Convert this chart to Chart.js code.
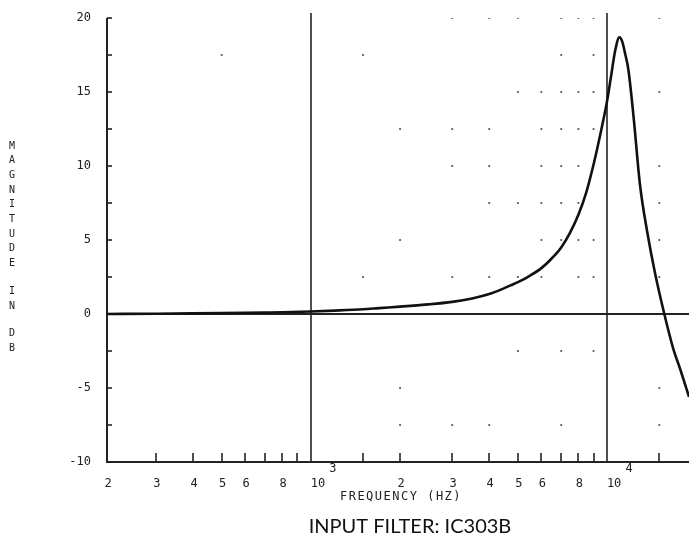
<!DOCTYPE html>
<html lang="en">
<head>
<meta charset="UTF-8">
<title>Input filter IC303B</title>
<script src="https://cdn.jsdelivr.net/npm/chart.js"></script>
<style>
  html, body { margin: 0; padding: 0; background: #fff; }
  #box { width: 689px; height: 541px; }
</style>
</head>
<body>
<div id="box"><canvas id="grafico" width="689" height="541"></canvas></div>
<script>
// curva (Hz, dB)
const frequencia = [205, 300, 400, 500, 600, 700, 800, 1000, 1200, 1500, 1700, 2000, 2500, 3000, 3500, 4000, 4500, 5000, 5500, 6000, 6500, 7000, 7500, 8000, 8500, 9000, 9500, 10000, 10300, 10650, 11000, 11250, 11500, 11800, 12300, 12900, 13700, 14500, 15600, 16700, 17700, 18900];
const magnitude  = [0.0, 0.02, 0.04, 0.06, 0.08, 0.1, 0.12, 0.17, 0.23, 0.32, 0.4, 0.5, 0.65, 0.82, 1.05, 1.35, 1.75, 2.15, 2.6, 3.1, 3.75, 4.5, 5.5, 6.7, 8.2, 10.1, 12.2, 14.4, 16.0, 17.8, 18.7, 18.4, 17.6, 16.5, 13.2, 8.8, 5.4, 2.8, 0.0, -2.3, -3.8, -5.6];

// eixos
const yTicks = [-10, -7.5, -5, -2.5, 0, 2.5, 5, 7.5, 10, 12.5, 15, 17.5, 20];
const yLabels = [-10, -5, 0, 5, 10, 15, 20];
const xTicks = [300, 400, 500, 600, 700, 800, 900, 1500, 2000, 3000, 4000, 5000, 6000, 7000, 8000, 9000, 15000];
const xLabelVals = [205, 300, 400, 500, 600, 800, 2000, 3000, 4000, 5000, 6000, 8000];
const xLabelText = ['2', '3', '4', '5', '6', '8', '2', '3', '4', '5', '6', '8'];
const decadas = [1000, 10000];
const expoentes = ['3', '4'];

// pontinhos da grade que sobraram na copia
const pontosNivel = [20, 17.5, 15, 12.5, 10, 7.5, 5, 2.5, -2.5, -5, -7.5];
const pontosFreq = [
  [3000, 4000, 5000, 7000, 8000, 9000, 15000],
  [500, 1500, 7000, 9000],
  [5000, 6000, 7000, 8000, 9000, 15000],
  [2000, 3000, 4000, 6000, 7000, 8000, 9000],
  [3000, 4000, 6000, 7000, 8000, 15000],
  [4000, 5000, 6000, 7000, 8000, 15000],
  [2000, 6000, 7000, 8000, 9000, 15000],
  [1500, 3000, 4000, 5000, 6000, 8000, 9000, 15000],
  [5000, 7000, 9000],
  [2000, 15000],
  [2000, 3000, 4000, 7000, 15000]
];

const curva = frequencia.map((f, i) => ({ x: f, y: magnitude[i] }));
const pontos = [];
pontosNivel.forEach((nivel, i) => {
  pontosFreq[i].forEach(f => pontos.push({ x: f, y: nivel }));
});

const mono = '"DejaVu Sans Mono", monospace';

const moldura = {
  id: 'moldura',
  beforeDatasetsDraw(chart) {
    const { ctx, chartArea: a, scales: { x, y } } = chart;
    ctx.save();
    ctx.strokeStyle = '#222';
    ctx.lineCap = 'butt';

    // eixo y + eixo x
    ctx.lineWidth = 2;
    ctx.beginPath();
    ctx.moveTo(a.left, a.top);
    ctx.lineTo(a.left, a.bottom);
    ctx.lineTo(a.right, a.bottom);
    ctx.stroke();

    ctx.lineWidth = 1.6;
    yTicks.forEach(v => {
      const py = Math.round(y.getPixelForValue(v));
      ctx.beginPath();
      ctx.moveTo(a.left, py);
      ctx.lineTo(a.left + 5, py);
      ctx.stroke();
    });
    xTicks.forEach(v => {
      const px = Math.round(x.getPixelForValue(v));
      ctx.beginPath();
      ctx.moveTo(px, a.bottom);
      ctx.lineTo(px, a.bottom - 9);
      ctx.stroke();
    });

    // linhas das decadas e do zero
    decadas.forEach(v => {
      const px = Math.round(x.getPixelForValue(v));
      ctx.beginPath();
      ctx.moveTo(px, a.top - 5);
      ctx.lineTo(px, a.bottom);
      ctx.stroke();
    });
    const y0 = Math.round(y.getPixelForValue(0));
    ctx.lineWidth = 2;
    ctx.beginPath();
    ctx.moveTo(a.left, y0);
    ctx.lineTo(a.right, y0);
    ctx.stroke();
    ctx.restore();
  },
  afterDraw(chart) {
    const { ctx, chartArea: a, scales: { x, y } } = chart;
    ctx.save();
    ctx.fillStyle = '#222';
    ctx.font = '12px ' + mono;
    ctx.textBaseline = 'middle';

    ctx.textAlign = 'right';
    yLabels.forEach(v => {
      ctx.fillText(String(v), a.left - 16, y.getPixelForValue(v));
    });

    ctx.textAlign = 'center';
    xLabelVals.forEach((v, i) => {
      ctx.fillText(xLabelText[i], x.getPixelForValue(v) + 1, a.bottom + 22);
    });
    decadas.forEach((v, i) => {
      const px = x.getPixelForValue(v);
      ctx.fillText('10', px + 7, a.bottom + 22);
      ctx.fillText(expoentes[i], px + 22, a.bottom + 7);
    });

    // titulo do eixo x
    ctx.letterSpacing = '1.5px';
    ctx.fillText('FREQUENCY (HZ)', 401, a.bottom + 35);

    // titulo do eixo y, letra por letra
    ctx.letterSpacing = '0px';
    ctx.font = '10px ' + mono;
    const rotulo = 'MAGNITUDE IN DB';
    let py = 146;
    for (const c of rotulo) {
      if (c !== ' ') ctx.fillText(c, 12, py);
      py += c === ' ' ? 13 : 14.7;
    }

    // legenda embaixo
    ctx.fillStyle = '#111';
    ctx.font = '20px Lato, "Open Sans", sans-serif';
    ctx.fillText('INPUT FILTER: IC303B', 410, 527);
    ctx.restore();
  }
};

new Chart(document.getElementById('grafico'), {
  type: 'scatter',
  data: {
    datasets: [
      {
        label: 'magnitude',
        data: curva,
        showLine: true,
        borderColor: '#111',
        borderWidth: 2.6,
        pointRadius: 0,
        cubicInterpolationMode: 'monotone'
      },
      {
        label: 'grade',
        data: pontos,
        pointRadius: 1.1,
        pointBackgroundColor: '#555',
        pointBorderWidth: 0,
        showLine: false
      }
    ]
  },
  options: {
    responsive: false,
    animation: false,
    devicePixelRatio: 1,
    layout: { autoPadding: false, padding: { left: 107, right: 0, top: 18, bottom: 79 } },
    plugins: { legend: { display: false }, tooltip: { enabled: false } },
    scales: {
      x: { type: 'logarithmic', min: 205, max: 18900, display: false },
      y: { type: 'linear', min: -10, max: 20, display: false }
    }
  },
  plugins: [moldura]
});
</script>
</body>
</html>
